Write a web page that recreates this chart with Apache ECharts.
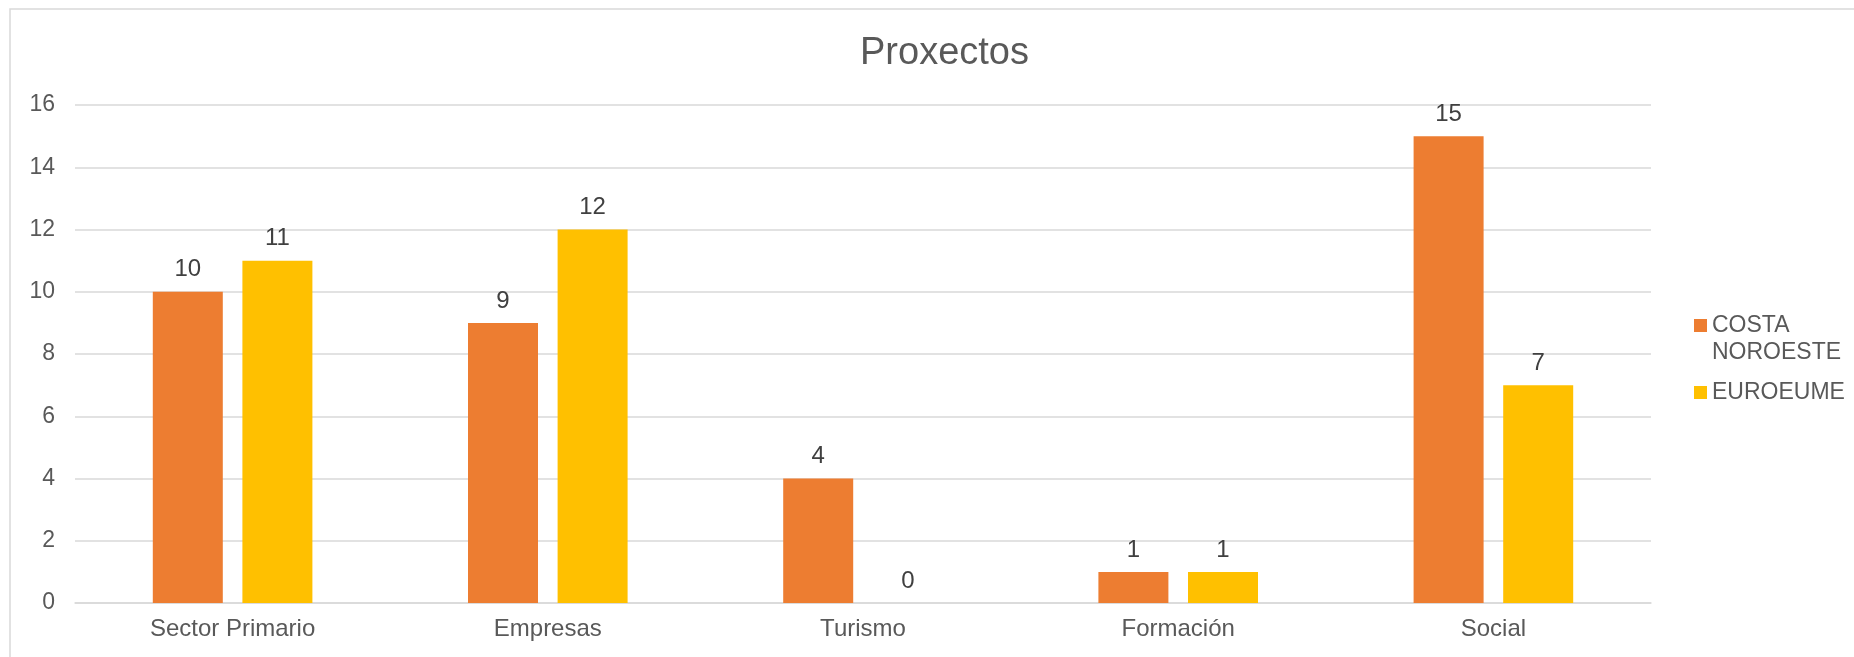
<!DOCTYPE html>
<html>
<head>
<meta charset="utf-8">
<script src="https://cdn.jsdelivr.net/npm/echarts@6/dist/echarts.min.js"></script>
<style>
html,body{margin:0;padding:0;background:#fff;}
#c{width:1854px;height:657px;}
</style>
</head>
<body>
<div id="c"></div>
<script>
const categories = ['Sector Primario', 'Empresas', 'Turismo', 'Formación', 'Social'];
const costaNoroeste = [10, 9, 4, 1, 15];
const euroeume = [11, 12, 0, 1, 7];
const seriesNames = ['COSTA NOROESTE', 'EUROEUME'];
const yTicks = { min: 0, max: 16, interval: 2 };

const FONT = 'Liberation Sans, Arial, sans-serif';
const chart = echarts.init(document.getElementById('c'), null, { renderer: 'canvas' });

const labelStyle = {
  show: true,
  position: 'top',
  distance: 10,
  fontSize: 24,
  color: '#404040',
  fontFamily: FONT
};

chart.setOption({
  backgroundColor: '#fff',
  animation: false,
  graphic: [{
    type: 'rect',
    shape: { x: 10, y: 9, width: 1900, height: 700 },
    style: { fill: 'none', stroke: '#d9d9d9', lineWidth: 1.5 },
    silent: true,
    z: -10
  }],
  title: {
    text: 'Proxectos',
    left: 855,
    top: 30,
    textStyle: { fontSize: 38, fontWeight: 'normal', color: '#595959', fontFamily: FONT }
  },
  legend: {
    orient: 'vertical',
    left: 1689,
    top: 280,
    itemWidth: 13,
    itemHeight: 13,
    itemGap: 13,
    icon: 'rect',
    data: seriesNames,
    formatter: function (name) {
      const parts = name.split(' ');
      return parts.length > 1 ? '\n' + parts.join('\n') : name;
    },
    textStyle: { fontSize: 23, lineHeight: 27, color: '#595959', fontFamily: FONT }
  },
  grid: { left: 75, right: 203, top: 105, bottom: 54, containLabel: false },
  xAxis: {
    type: 'category',
    data: categories,
    axisLine: { show: true, lineStyle: { color: '#d9d9d9', width: 1.5 } },
    axisTick: { show: false },
    axisLabel: { fontSize: 24, color: '#595959', fontFamily: FONT, margin: 14 },
    splitLine: { show: false }
  },
  yAxis: {
    type: 'value',
    min: yTicks.min,
    max: yTicks.max,
    interval: yTicks.interval,
    axisLine: { show: false },
    axisTick: { show: false },
    axisLabel: { fontSize: 23, color: '#595959', fontFamily: FONT, margin: 20 },
    splitLine: { lineStyle: { color: '#d9d9d9', width: 1.5 } }
  },
  series: [
    {
      name: seriesNames[0],
      type: 'bar',
      data: costaNoroeste,
      barWidth: 70,
      barGap: '28%',
      itemStyle: { color: '#ED7D31' },
      label: labelStyle
    },
    {
      name: seriesNames[1],
      type: 'bar',
      data: euroeume,
      barWidth: 70,
      barGap: '28%',
      itemStyle: { color: '#FFC000' },
      label: labelStyle
    }
  ]
});
</script>
</body>
</html>
